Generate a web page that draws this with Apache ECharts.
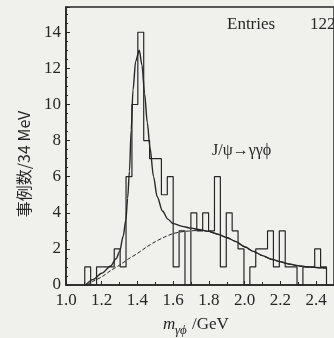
<!DOCTYPE html>
<html><head><meta charset="utf-8">
<script src="https://cdn.jsdelivr.net/npm/echarts@6/dist/echarts.min.js"></script>
<style>html,body{margin:0;padding:0;background:#f0f0ed;}#c{width:334px;height:338px;}</style>
</head><body><div id="c"></div>
<script>
// histogram bin edges (GeV) and counts per bin
const binEdges = [1.105, 1.138, 1.171, 1.204, 1.237, 1.270, 1.303, 1.336, 1.369, 1.402,
  1.435, 1.468, 1.501, 1.534, 1.567, 1.600, 1.633, 1.666, 1.699, 1.732,
  1.765, 1.798, 1.831, 1.864, 1.897, 1.930, 1.963, 1.996, 2.029, 2.062,
  2.095, 2.128, 2.161, 2.194, 2.227, 2.260, 2.293, 2.326, 2.359, 2.392,
  2.425, 2.458];
const counts = [1, 0, 1, 1, 1, 2, 1, 6, 10, 14,
  8, 7, 7, 5, 6, 1, 3, 0, 4, 3,
  4, 3, 6, 1, 4, 3, 2, 0, 1, 2,
  2, 3, 1, 3, 1, 1, 0, 1, 1, 2,
  1];
// total fit curve (signal + background)
const totalX = [1.11, 1.15, 1.20, 1.25, 1.28, 1.30, 1.32, 1.335, 1.345, 1.355, 1.365, 1.375, 1.39, 1.41, 1.425, 1.44,
  1.455, 1.47, 1.49, 1.51, 1.54, 1.57, 1.60, 1.65, 1.70, 1.75, 1.80, 1.85, 1.90, 1.95, 2.00, 2.05, 2.10, 2.15,
  2.20, 2.25, 2.30, 2.35, 2.40, 2.46];
const totalY = [0, 0.3, 0.65, 1.05, 1.45, 1.85, 2.7, 3.6, 4.8, 6.3, 8.6, 10.8, 12.4, 13.0, 12.2, 10.6,
  9.0, 7.6, 6.0, 4.9, 4.1, 3.65, 3.4, 3.25, 3.15, 3.06, 2.97, 2.82, 2.63, 2.41, 2.12, 1.86, 1.63, 1.43,
  1.29, 1.16, 1.07, 1.01, 0.97, 0.94];
// background curve
const bkgX = [1.115, 1.15, 1.20, 1.25, 1.30, 1.35, 1.40, 1.45, 1.50, 1.55, 1.60, 1.65, 1.70, 1.75, 1.80,
  1.85, 1.90, 1.95, 2.00, 2.05, 2.10, 2.15, 2.20, 2.25, 2.30, 2.35, 2.40, 2.46];
const bkgY = [0, 0.2, 0.45, 0.8, 1.1, 1.45, 1.75, 2.1, 2.4, 2.65, 2.85, 2.95, 3.0, 3.02, 2.95,
  2.8, 2.62, 2.4, 2.1, 1.85, 1.62, 1.42, 1.28, 1.15, 1.06, 1.0, 0.96, 0.93];

const ink = '#262626';
const serif = '"Liberation Serif", "DejaVu Serif", serif';

const histData = [[binEdges[0], 0]];
counts.forEach((c, i) => histData.push([binEdges[i], c]));
histData.push([binEdges[binEdges.length - 1], 0]);

const chart = echarts.init(document.getElementById('c'), null, {renderer: 'canvas'});
chart.setOption({
  backgroundColor: '#f0f0ed',
  animation: false,
  grid: {left: 66, top: 7, bottom: 53, right: -9.5, show: true, borderColor: ink, borderWidth: 1.5, backgroundColor: 'transparent'},
  xAxis: {
    type: 'value', min: 1.0, max: 2.5, interval: 0.2,
    axisLine: {lineStyle: {color: ink, width: 1.5}},
    axisTick: {inside: true, length: 4, lineStyle: {color: ink}},
    minorTick: {show: true, splitNumber: 2, length: 3, lineStyle: {color: ink}},
    splitLine: {show: false},
    axisLabel: {showMaxLabel: false, margin: 7, color: ink, fontFamily: serif, fontSize: 17,
      formatter: v => v.toFixed(1)}
  },
  yAxis: {
    type: 'value', min: 0, max: 15.4, interval: 2,
    axisLine: {lineStyle: {color: ink, width: 1.5}},
    axisTick: {inside: true, length: 4, lineStyle: {color: ink}},
    minorTick: {show: true, splitNumber: 4, length: 2, lineStyle: {color: ink}},
    splitLine: {show: false},
    axisLabel: {showMaxLabel: false, margin: 5, color: ink, fontFamily: serif, fontSize: 17}
  },
  series: [
    {type: 'line', data: histData, step: 'end', showSymbol: false, lineStyle: {color: ink, width: 1.2}},
    {type: 'line', data: bkgX.map((x, i) => [x, bkgY[i]]), smooth: 0.3, showSymbol: false,
      lineStyle: {color: ink, width: 1, type: [4, 2]}},
    {type: 'line', data: totalX.map((x, i) => [x, totalY[i]]), smooth: 0.3, smoothMonotone: 'x', showSymbol: false,
      lineStyle: {color: ink, width: 1.4}}
  ],
  graphic: [
    {type: 'text', left: 227, top: 16, style: {text: 'Entries', font: '17px ' + serif, fill: ink}},
    {type: 'text', left: 310, top: 16, style: {text: '122', font: '17px ' + serif, fill: ink}},
    {type: 'text', left: 212, top: 143, style: {text: 'J/ψ→γγϕ', font: '16px ' + serif, fill: ink}},
    {type: 'text', x: 24, y: 164, rotation: Math.PI / 2,
      style: {text: '事例数/34 MeV', font: '16px "Noto Sans CJK SC", ' + serif, fill: ink,
        align: 'center', verticalAlign: 'middle', textAlign: 'center', textVerticalAlign: 'middle'}},
    {type: 'text', left: 163, top: 316, style: {text: 'm', font: 'italic 17px ' + serif, fill: ink}},
    {type: 'text', left: 175, top: 324, style: {text: 'γϕ', font: 'italic 13px ' + serif, fill: ink}},
    {type: 'text', left: 192, top: 316, style: {text: '/GeV', font: '17px ' + serif, fill: ink}}
  ]
});
</script></body></html>
